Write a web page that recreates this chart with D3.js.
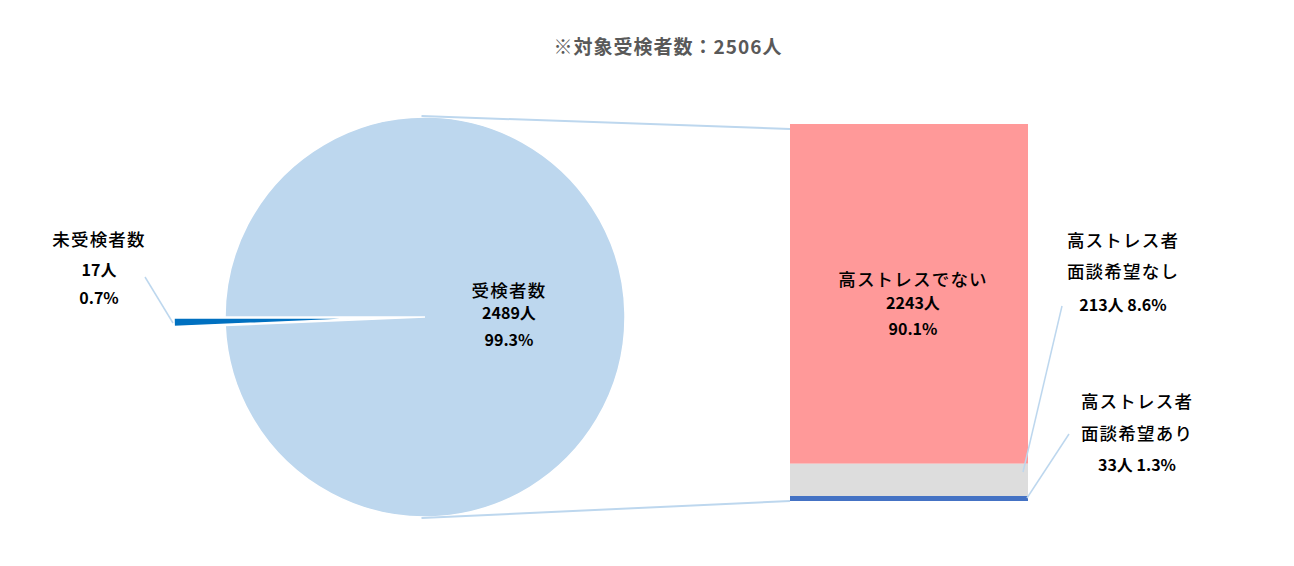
<!DOCTYPE html>
<html><head><meta charset="utf-8">
<script src="https://cdn.jsdelivr.net/npm/d3@7"></script>
<style>
html,body{margin:0;padding:0;background:#fff;}
svg text{font-family:"Noto Sans CJK JP","Noto Sans",sans-serif;}
</style></head>
<body>
<svg id="c" width="1294" height="566"></svg>
<script>
const titleText = "※対象受検者数：2506人";
const pieCategories = ["未受検者数", "受検者数"];
const pieValues = [17, 2489];
const pieColors = ["#0070C0", "#BDD7EE"];
const barCategories = ["高ストレスでない", "高ストレス者\n面談希望なし", "高ストレス者\n面談希望あり"];
const barValues = [2243, 213, 33];
const barColors = ["#FF9999", "#DDDDDD", "#4472C4"];

const svg = d3.select("#c");
const pieTotal = d3.sum(pieValues);
const barTotal = d3.sum(barValues);
const fmtPct = v => (v * 100).toFixed(1) + "%";

// title
svg.append("text").attr("x", 668).attr("y", 54).attr("text-anchor", "middle")
  .attr("font-size", 19).attr("font-weight", "bold").attr("fill", "#595959")
  .attr("letter-spacing", 1).text(titleText);

// pie
const cx = 425, cy = 317, R = 200;
const smallAngle = 2 * Math.PI * pieValues[0] / pieTotal;
const pie = d3.pie().sort(null).startAngle(1.5 * Math.PI - smallAngle).endAngle(3.5 * Math.PI - smallAngle);
const arcs = pie(pieValues);
const arc = d3.arc().innerRadius(0).outerRadius(R);
const gPie = svg.append("g").attr("transform", `translate(${cx},${cy})`);
const explode = 51;
gPie.selectAll("path").data(arcs).join("path")
  .attr("d", arc)
  .attr("fill", (d, i) => pieColors[i])
  .attr("stroke", "#fff").attr("stroke-width", 1.5)
  .attr("transform", (d, i) => {
    if (i !== 0) return null;
    const a = (d.startAngle + d.endAngle) / 2;
    return `translate(${explode * Math.sin(a)},${-explode * Math.cos(a)})`;
  });

// bar
const bx0 = 790, bx1 = 1028;
const y = d3.scaleLinear().domain([0, barTotal]).range([501, 124]);
let cum = 0;
const stack = [];
for (let i = barValues.length - 1; i >= 0; i--) {
  stack[i] = {v: barValues[i], y0: cum, y1: cum + barValues[i]};
  cum += barValues[i];
}
svg.append("g").selectAll("rect").data(stack).join("rect")
  .attr("x", bx0).attr("width", bx1 - bx0)
  .attr("y", d => y(d.y1)).attr("height", d => y(d.y0) - y(d.y1))
  .attr("fill", (d, i) => barColors[i]);

// connectors
const lc = "#BDD7EE";
const topA = -1 * Math.PI / 180, botA = Math.PI + 1 * Math.PI / 180;
svg.append("line").attr("x1", cx + R * Math.sin(topA)).attr("y1", cy - R * Math.cos(topA) - 1)
  .attr("x2", bx0).attr("y2", y(barTotal) + 5).attr("stroke", lc).attr("stroke-width", 2);
svg.append("line").attr("x1", cx + R * Math.sin(botA)).attr("y1", cy - R * Math.cos(botA) + 1)
  .attr("x2", bx0).attr("y2", y(0)).attr("stroke", lc).attr("stroke-width", 2);

// leader lines
const leaders = [[173, 323, 145, 277], [1023, 472, 1062, 306], [1027, 498, 1069, 434]];
svg.append("g").selectAll("line").data(leaders).join("line")
  .attr("x1", d => d[0]).attr("y1", d => d[1]).attr("x2", d => d[2]).attr("y2", d => d[3])
  .attr("stroke", lc).attr("stroke-width", 1.5);

// labels
function label(x, lines) {
  const g = svg.append("g");
  lines.forEach(l => {
    g.append("text").attr("x", x).attr("y", l.y).attr("text-anchor", "middle")
      .attr("font-size", l.num ? 16 : 17.5).attr("font-weight", l.num ? "bold" : 500)
      .attr("letter-spacing", l.num ? 0 : 1.2).attr("fill", "#000").text(l.t);
  });
}
label(99, [{t: pieCategories[0], y: 246}, {t: pieValues[0] + "人", y: 276, num: 1}, {t: fmtPct(pieValues[0] / pieTotal), y: 304, num: 1}]);
label(509, [{t: pieCategories[1], y: 297}, {t: pieValues[1] + "人", y: 319, num: 1}, {t: fmtPct(pieValues[1] / pieTotal), y: 346, num: 1}]);
label(913, [{t: barCategories[0], y: 286}, {t: barValues[0] + "人", y: 309, num: 1}, {t: fmtPct(barValues[0] / barTotal), y: 335, num: 1}]);
const b1 = barCategories[1].split("\n"), b2 = barCategories[2].split("\n");
label(1123, [{t: b1[0], y: 247}, {t: b1[1], y: 278}, {t: barValues[1] + "人 " + fmtPct(barValues[1] / barTotal), y: 311, num: 1}]);
label(1137, [{t: b2[0], y: 408}, {t: b2[1], y: 440}, {t: barValues[2] + "人 " + fmtPct(barValues[2] / barTotal), y: 471, num: 1}]);
</script>
</body></html>
